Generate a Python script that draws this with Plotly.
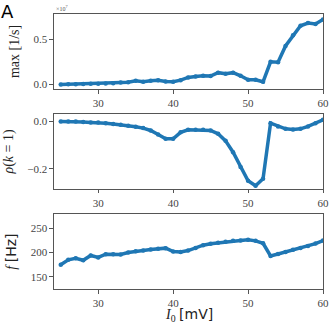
import plotly.graph_objects as go
from plotly.subplots import make_subplots

# input current I0 [mV]
current = list(range(25, 61))

# max rate [1/s], in units of 1e7
max_rate = [0.000, 0.002, 0.003, 0.004, 0.006, 0.008, 0.010, 0.013, 0.020, 0.025,
            0.040, 0.030, 0.040, 0.045, 0.032, 0.029, 0.047, 0.077, 0.088, 0.095,
            0.092, 0.130, 0.117, 0.130, 0.095, 0.051, 0.051, 0.029, 0.250, 0.246,
            0.426, 0.544, 0.650, 0.680, 0.670, 0.720]

# autocorrelation rho(k=1)
rho = [0.000, 0.000, 0.000, -0.002, -0.004, -0.004, -0.007, -0.011, -0.014, -0.018,
       -0.022, -0.028, -0.038, -0.055, -0.073, -0.073, -0.046, -0.035, -0.035, -0.035,
       -0.038, -0.052, -0.082, -0.130, -0.193, -0.251, -0.272, -0.242, -0.007, -0.021,
       -0.031, -0.034, -0.031, -0.021, -0.007, 0.007]

# frequency f [Hz]
freq = [175, 185, 188, 184, 194, 190, 196.6, 196.6, 196, 200,
        202.7, 204, 206, 208, 209, 202, 201, 204, 209.5, 215,
        218, 220, 222, 224, 224.5, 226, 224, 219, 193, 197,
        201, 205.5, 209.5, 213.6, 218.4, 224.5]

blue = "#1f77b4"
serif = "Liberation Serif"

fig = make_subplots(rows=3, cols=1)
for i, ys in enumerate([max_rate, rho, freq]):
    fig.add_trace(go.Scatter(x=current, y=ys, mode="lines+markers",
                             line=dict(color=blue, width=3.5),
                             marker=dict(color=blue, size=4.5),
                             showlegend=False), row=i + 1, col=1)

domains = [[0.7276, 1.0], [0.3643, 0.6357], [0.0, 0.2724]]
yranges = [[-0.05, 0.78], [-0.285, 0.031], [125, 279]]
yticks = [[0, 0.5], [0, -0.2], [150, 200, 250]]
ytext = [["0.0", "0.5"], ["0.0", "\u22120.2"], ["150", "200", "250"]]
ytitles = ["max [1/s]",
           "<i>\u03c1</i>(<i>k</i> = 1)",
           "<i>f</i> <span style='font-family:DejaVu Sans'>[Hz]</span>"]

axis_style = dict(showline=True, linecolor="#555555", linewidth=1.2, mirror=True,
                  ticks="outside", ticklen=3.5, tickcolor="#555555",
                  showgrid=False, zeroline=False, automargin=False,
                  tickfont=dict(family=serif, size=11, color="#444444"))

for i in range(3):
    fig.update_xaxes(range=[24.1, 60], tickvals=[30, 40, 50, 60],
                     row=i + 1, col=1, **axis_style)
    fig.update_yaxes(domain=domains[i], range=yranges[i], tickvals=yticks[i],
                     ticktext=ytext[i],
                     title=dict(text=ytitles[i], standoff=10,
                                font=dict(family=serif, size=14, color="#222222")),
                     row=i + 1, col=1, **axis_style)

# x axis label
fig.add_annotation(text="<i>I</i><sub>0</sub> <span style='font-family:DejaVu Sans'>[mV]</span>",
                   x=0.5, y=0, xref="paper", yref="paper", yshift=-15,
                   xanchor="center", yanchor="top", showarrow=False,
                   font=dict(family=serif, size=14, color="#222222"))

fig.add_annotation(text="A", x=0, y=1, xref="paper", yref="paper",
                   xshift=-55, yshift=15, xanchor="left", yanchor="top",
                   showarrow=False, font=dict(family="DejaVu Sans", size=18, color="black"))
fig.add_annotation(text="\u00d710<sup>7</sup>", x=0, y=1, xref="paper", yref="paper",
                   xanchor="left", yanchor="bottom", showarrow=False,
                   font=dict(family=serif, size=6, color="#555555"))

fig.update_layout(width=332, height=332, margin=dict(l=54, r=9, t=14, b=43),
                  plot_bgcolor="white", paper_bgcolor="white")

fig.write_html("out.html", config={"displayModeBar": False},
               post_script="document.body.style.margin='0';")
